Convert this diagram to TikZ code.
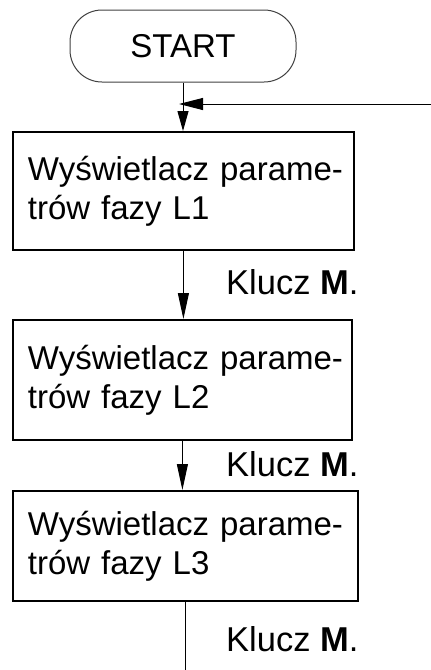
\documentclass[tikz,border=0pt]{standalone}
\usepackage{fontspec}
\setmainfont{Liberation Sans}
\usetikzlibrary{arrows.meta}
\hbadness=10000 \hfuzz=100pt
\begin{document}
\begin{tikzpicture}[x=1pt,y=1pt,
  box/.style={draw, line width=1.8pt, rectangle, align=left, inner xsep=15pt, inner ysep=0pt,
    font=\fontsize{33}{39}\selectfont, anchor=north west},
  conn/.style={line width=1pt, -{Triangle[width=11pt,length=26pt]}},
  lbl/.style={anchor=base west, inner sep=0pt, font=\fontsize{34.5}{40}\selectfont}]
\useasboundingbox (0,0) rectangle (431,-670);
\node[draw=black!75, line width=1pt, rounded corners=32pt, minimum width=226pt, minimum height=72pt,
  font=\fontsize{33}{38}\selectfont] (start) at (183,-46) {START};
\node[box, minimum width=341pt, minimum height=118pt, text width=311pt] (b1) at (12,-131) {\mbox{Wyświetlacz parame-}\\\mbox{trów fazy L1}};
\node[box, minimum width=339pt, minimum height=120pt, text width=309pt] (b2) at (12,-319) {\mbox{Wyświetlacz parame-}\\\mbox{trów fazy L2}};
\node[box, minimum width=345pt, minimum height=110pt, text width=315pt] (b3) at (12,-490) {\mbox{Wyświetlacz parame-}\\\mbox{trów fazy L3}};
\node[lbl] (k1) at (226,-294) {Klucz \textbf{M}.};
\node[lbl] (k2) at (226,-476) {Klucz \textbf{M}.};
\node[lbl] (k3) at (226,-651) {Klucz \textbf{M}.};
\coordinate (ret) at (431,-104);
\coordinate (endp) at (184,-670);
\draw[line width=1pt, -{Triangle[width=11pt,length=20pt]}] (start.south) -- (start.south |- b1.north);
\coordinate (join) at (start.south |- ret);
\draw[line width=1pt, -{Triangle[width=12pt,length=24pt]}] (ret) -- ([xshift=-4pt]join);
\draw[conn] (b1.south) -- (b1.south |- b2.north);
\draw[conn] (b2.south) -- (b2.south |- b3.north);
\draw[line width=1pt] (b3.south) -- (b3.south |- endp);
\end{tikzpicture}
\end{document}
